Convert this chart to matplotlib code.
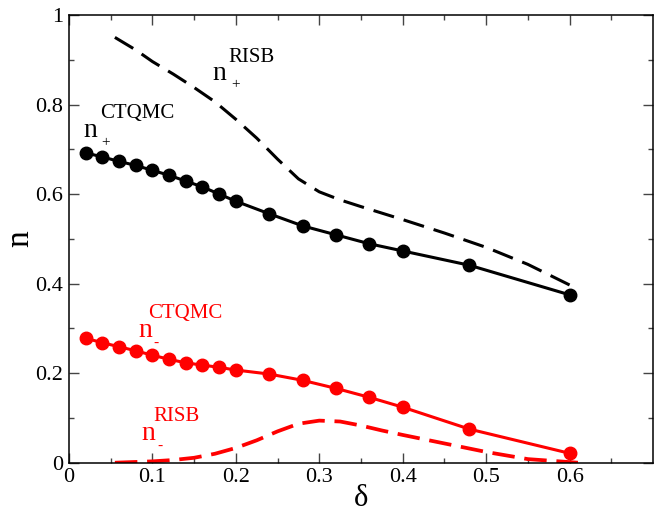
import numpy as np
import matplotlib
matplotlib.use("Agg")
import matplotlib.pyplot as plt

# CTQMC points (delta, n)
delta_qmc = [0.02, 0.04, 0.06, 0.08, 0.10, 0.12, 0.14, 0.16, 0.18, 0.20,
             0.24, 0.28, 0.32, 0.36, 0.40, 0.48, 0.60]
n_plus_qmc = [0.692, 0.683, 0.673, 0.664, 0.653, 0.642, 0.629, 0.616, 0.600, 0.584,
              0.556, 0.529, 0.509, 0.489, 0.473, 0.441, 0.375]
n_minus_qmc = [0.278, 0.268, 0.259, 0.250, 0.240, 0.231, 0.223, 0.218, 0.213, 0.207,
               0.198, 0.184, 0.166, 0.146, 0.124, 0.075, 0.021]

# RISB curves
delta_risb_p = [0.055, 0.08, 0.10, 0.125, 0.15, 0.175, 0.20, 0.225, 0.25, 0.275,
                0.30, 0.325, 0.35, 0.40, 0.45, 0.50, 0.55, 0.60]
n_plus_risb = [0.950, 0.922, 0.896, 0.868, 0.838, 0.806, 0.767, 0.725, 0.678, 0.634,
               0.605, 0.587, 0.572, 0.543, 0.513, 0.481, 0.443, 0.397]

delta_risb_m = [0.055, 0.10, 0.125, 0.15, 0.175, 0.20, 0.225, 0.25, 0.275, 0.30,
                0.325, 0.35, 0.375, 0.40, 0.45, 0.50, 0.55, 0.61]
n_minus_risb = [0.0, 0.003, 0.006, 0.011, 0.020, 0.033, 0.050, 0.070, 0.087, 0.094,
                0.092, 0.083, 0.072, 0.062, 0.043, 0.024, 0.008, 0.0]

plt.rcParams["font.family"] = ["Liberation Serif", "DejaVu Serif"]

fig = plt.figure(figsize=(6.64, 5.14), dpi=100)
ax = fig.add_axes([69 / 664, 1 - 462.7 / 514, 584 / 664, 447.7 / 514])

ax.plot(delta_risb_p, n_plus_risb, color="black", lw=2.2, dashes=(7, 3.3),
        dash_joinstyle="round")
ax.plot(delta_risb_m, n_minus_risb, color="red", lw=2.7, dashes=(6, 2.6),
        dash_joinstyle="round")
ax.plot(delta_qmc, n_plus_qmc, color="black", lw=2.2, marker="o", ms=9)
ax.plot(delta_qmc, n_minus_qmc, color="red", lw=2.2, marker="o", ms=9)

ax.set_xlim(0, 0.7)
ax.set_ylim(0, 1)
ax.set_xticks(np.arange(0, 0.61, 0.1))
ax.set_xticklabels(["0", "0.1", "0.2", "0.3", "0.4", "0.5", "0.6"])
ax.set_xticks(np.arange(0.05, 0.7, 0.05), minor=True)
ax.set_yticks(np.arange(0, 1.01, 0.2))
ax.set_yticklabels(["0", "0.2", "0.4", "0.6", "0.8", "1"])
ax.set_yticks(np.arange(0.1, 1.0, 0.2), minor=True)

ax.tick_params(which="both", direction="in", top=True, right=True,
               labelsize=16, color="#444444", width=1.0)
ax.tick_params(which="major", length=7.5, pad=4)
ax.tick_params(which="minor", length=3.8)
for s in ax.spines.values():
    s.set_linewidth(1.1)

ax.set_xlabel("δ", fontsize=22, labelpad=-2)
ax.set_ylabel("n", fontsize=24, labelpad=0)

# curve labels: n, subscript sign, superscript method
def curve_label(xn, yn, xs, ys, sign, xt, yt, text, color):
    ax.text(xn, yn, "n", fontsize=20, color=color, ha="left", va="baseline")
    ax.text(xs, ys, sign, fontsize=11, color=color, ha="center", va="center")
    ax.text(xt, yt, text, fontsize=15, color=color, ha="left", va="baseline")

curve_label(0.1716, 0.855, 0.1998, 0.844, "+", 0.191, 0.895, "RISB", "black")
curve_label(0.0168, 0.727, 0.0432, 0.716, "+", 0.0372, 0.770, "CTQMC", "black")
curve_label(0.0832, 0.281, 0.104, 0.267, "-", 0.0948, 0.324, "CTQMC", "red")
curve_label(0.0873, 0.0507, 0.109, 0.036, "-", 0.101, 0.094, "RISB", "red")

fig.savefig("out.png", dpi=100)
